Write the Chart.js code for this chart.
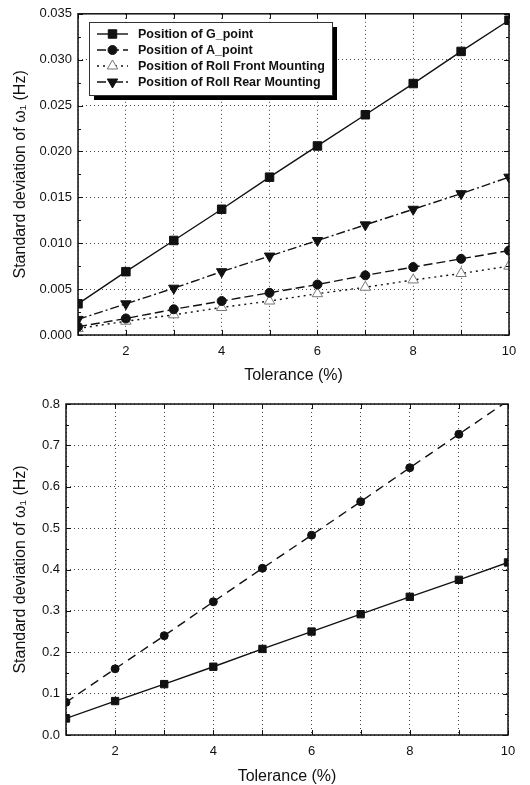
<!DOCTYPE html>
<html>
<head>
<meta charset="utf-8">
<script src="https://cdn.jsdelivr.net/npm/chart.js@4.4.1/dist/chart.umd.min.js"></script>
<style>
  html, body { margin: 0; padding: 0; background: #fff; }
  .wrap { position: absolute; left: 0; width: 530px; }
  #top-wrap { top: 0; height: 390px; }
  #bottom-wrap { top: 390px; height: 395px; }
</style>
</head>
<body>
<div class="wrap" id="top-wrap"><canvas id="top-chart" width="530" height="390"></canvas></div>
<div class="wrap" id="bottom-wrap"><canvas id="bottom-chart" width="530" height="395"></canvas></div>
<script>
// tolerance levels (%)
const toleranceLevels = [1, 2, 3, 4, 5, 6, 7, 8, 9, 10];

// top chart - std deviation of w1 (Hz)
const gPoint = [0.0034, 0.0069, 0.0103, 0.0137, 0.0172, 0.0206, 0.0240, 0.0274, 0.0309, 0.0343];
const aPoint = [0.0009, 0.0018, 0.0028, 0.0037, 0.0046, 0.0055, 0.0065, 0.0074, 0.0083, 0.0092];
const rollFront = [0.0007, 0.0015, 0.0022, 0.0030, 0.0037, 0.0045, 0.0052, 0.0060, 0.0067, 0.0075];
const rollRear = [0.0017, 0.0034, 0.0051, 0.0069, 0.0086, 0.0103, 0.0120, 0.0137, 0.0154, 0.0172];

// bottom chart
const crossFrame = [0.040, 0.082, 0.123, 0.165, 0.208, 0.250, 0.292, 0.334, 0.375, 0.417];
const sideFrame = [0.079, 0.160, 0.240, 0.322, 0.403, 0.483, 0.564, 0.646, 0.727, 0.808];

const topLabels = ['Position of G_point', 'Position of A_point', 'Position of Roll Front Mounting', 'Position of Roll Rear Mounting'];
const bottomLabels = ['Length of cross-frame', 'Length of side-frame'];

const FONT = "'Liberation Sans', Arial, sans-serif";

function toPoints(values) {
    return toleranceLevels.map((t, i) => ({ x: t, y: values[i] }));
}

function series(label, values, style) {
    return Object.assign({
        label: label,
        data: toPoints(values),
        borderColor: '#111',
        backgroundColor: '#111',
        pointBorderColor: '#111',
        pointBackgroundColor: '#111',
        borderWidth: 1.4,
        pointBorderWidth: 1,
        tension: 0,
        clip: 0
    }, style);
}

// frame, inward ticks and the boxed legend with drop shadow
const framePlugin = {
    id: 'frame',
    afterDatasetsDraw(chart, args, opts) {
        const ctx = chart.ctx;
        const a = chart.chartArea;
        const xs = chart.scales.x;
        const ys = chart.scales.y;
        ctx.save();
        ctx.strokeStyle = '#111';
        ctx.lineWidth = 1;
        ctx.beginPath();
        xs.ticks.forEach(t => {
            const px = Math.round(xs.getPixelForValue(t.value)) + 0.5;
            ctx.moveTo(px, a.bottom); ctx.lineTo(px, a.bottom - 5);
            ctx.moveTo(px, a.top); ctx.lineTo(px, a.top + 5);
        });
        const step = opts.yStep;
        for (let v = ys.min; v <= ys.max + step / 4; v += step / 2) {
            const py = Math.round(ys.getPixelForValue(v)) + 0.5;
            const major = Math.abs(Math.round(v / step) * step - v) < step / 10;
            const len = major ? 5 : 3;
            ctx.moveTo(a.left, py); ctx.lineTo(a.left + len, py);
            ctx.moveTo(a.right, py); ctx.lineTo(a.right - len, py);
        }
        ctx.stroke();
        ctx.lineWidth = 1.5;
        ctx.strokeRect(a.left, a.top, a.right - a.left, a.bottom - a.top);

        // legend
        const lg = opts.legend;
        ctx.fillStyle = '#000';
        ctx.fillRect(lg.x + 5, lg.y + 5, lg.w, lg.h);
        ctx.fillStyle = '#fff';
        ctx.fillRect(lg.x, lg.y, lg.w, lg.h);
        ctx.lineWidth = 1;
        ctx.strokeStyle = '#333';
        ctx.strokeRect(lg.x + 0.5, lg.y + 0.5, lg.w, lg.h);
        chart.data.datasets.forEach((ds, i) => {
            const y = lg.rowY + i * lg.rowGap;
            ctx.strokeStyle = ds.borderColor;
            ctx.lineWidth = ds.borderWidth;
            ctx.setLineDash(ds.borderDash || []);
            ctx.beginPath();
            ctx.moveTo(lg.lineX0, y);
            ctx.lineTo(lg.lineX1, y);
            ctx.stroke();
            ctx.setLineDash([]);
            ctx.fillStyle = ds.pointBackgroundColor;
            ctx.strokeStyle = ds.pointBorderColor;
            ctx.lineWidth = ds.pointBorderWidth;
            Chart.helpers.drawPoint(ctx, {
                pointStyle: ds.pointStyle,
                radius: ds.pointRadius,
                rotation: ds.pointRotation || 0,
                borderWidth: ds.pointBorderWidth
            }, (lg.lineX0 + lg.lineX1) / 2, y);
            ctx.fillStyle = '#111';
            ctx.font = 'bold ' + lg.fontSize + 'px ' + FONT;
            ctx.textBaseline = 'middle';
            ctx.textAlign = 'left';
            ctx.fillText(ds.label, lg.textX, y + 1);
        });
        ctx.restore();
    }
};

function axes(yMax, yStep, yDigits, yWidth, xHeight, xTitleBottom) {
    const grid = {
        color: '#444',
        lineWidth: 1,
        drawTicks: false
    };
    return {
        x: {
            type: 'linear',
            min: 1,
            max: 10,
            afterFit: s => { s.height = xHeight; },
            border: { display: false, dash: [1, 3] },
            grid: Object.assign({}, grid),
            ticks: {
                stepSize: 1,
                padding: 9,
                color: '#111',
                font: { family: FONT, size: 13 },
                callback: v => (v % 2 === 0 ? String(v) : '')
            },
            title: {
                display: true,
                text: 'Tolerance (%)',
                color: '#111',
                font: { family: FONT, size: 16 },
                padding: { top: 6, bottom: xTitleBottom }
            }
        },
        y: {
            min: 0,
            max: yMax,
            afterFit: s => { s.width = yWidth; },
            border: { display: false, dash: [1, 3] },
            grid: Object.assign({}, grid),
            ticks: {
                stepSize: yStep,
                padding: 6,
                color: '#111',
                font: { family: FONT, size: 13 },
                callback: v => v.toFixed(yDigits)
            },
            title: {
                display: true,
                text: 'Standard deviation of ω\u2081 (Hz)',
                color: '#111',
                font: { family: FONT, size: 16 },
                padding: { top: 11, bottom: 2 }
            }
        }
    };
}

new Chart(document.getElementById('top-chart').getContext('2d'), {
    type: 'line',
    data: {
        datasets: [
            series(topLabels[0], gPoint, { pointStyle: 'rect', pointRadius: 6 }),
            series(topLabels[1], aPoint, { pointStyle: 'circle', pointRadius: 4.5, borderDash: [9, 4] }),
            series(topLabels[2], rollFront, {
                pointStyle: 'triangle', pointRadius: 6, borderDash: [2, 4],
                pointBackgroundColor: '#fff', pointBorderColor: '#777'
            }),
            series(topLabels[3], rollRear, { pointStyle: 'triangle', pointRotation: 180, pointRadius: 6, borderDash: [9, 3, 2, 3] })
        ]
    },
    options: {
        responsive: false,
        animation: false,
        layout: { padding: { top: 13, right: 21, left: 0, bottom: 0 } },
        scales: axes(0.035, 0.005, 3, 78, 55, 5),
        plugins: {
            legend: { display: false },
            tooltip: { enabled: false },
            frame: {
                yStep: 0.005,
                legend: { x: 89, y: 22, w: 243, h: 73, rowY: 34, rowGap: 16, lineX0: 97, lineX1: 128, textX: 138, fontSize: 12.5 }
            }
        }
    },
    plugins: [framePlugin]
});

new Chart(document.getElementById('bottom-chart').getContext('2d'), {
    type: 'line',
    data: {
        datasets: [
            series(bottomLabels[0], crossFrame, { pointStyle: 'rect', pointRadius: 5.2 }),
            series(bottomLabels[1], sideFrame, { pointStyle: 'circle', pointRadius: 4, borderDash: [9, 6] })
        ]
    },
    options: {
        responsive: false,
        animation: false,
        layout: { padding: { top: 14, right: 22, left: 0, bottom: 0 } },
        scales: axes(0.8, 0.1, 1, 66, 50, -1),
        plugins: {
            legend: { display: false },
            tooltip: { enabled: false },
            frame: {
                yStep: 0.1,
                legend: { x: 83, y: 417, w: 215, h: 44, rowY: 430, rowGap: 18, lineX0: 92, lineX1: 127, textX: 138, fontSize: 15 }
            }
        }
    },
    plugins: [framePlugin]
});
</script>
</body>
</html>
